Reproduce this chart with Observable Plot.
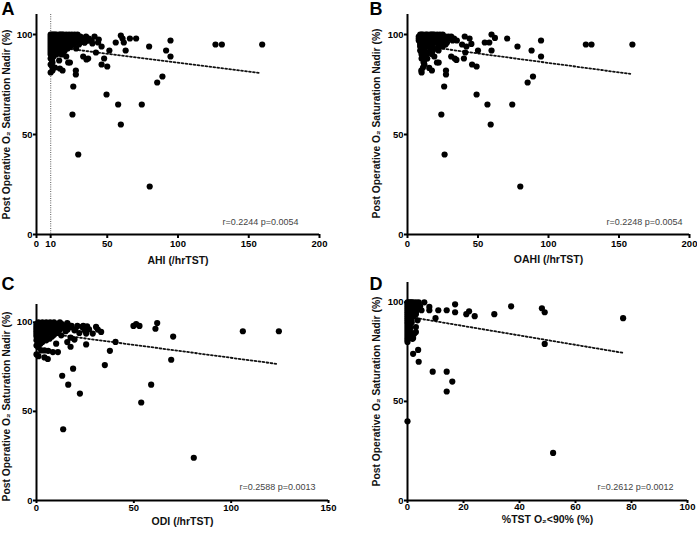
<!DOCTYPE html>
<html>
<head>
<meta charset="utf-8">
<script src="https://cdn.jsdelivr.net/npm/d3@7"></script>
<script src="https://cdn.jsdelivr.net/npm/@observablehq/plot@0.6"></script>
<style>
  html, body { margin: 0; padding: 0; background: #fff; }
  #wrap { position: relative; width: 697px; height: 534px; overflow: hidden; background: #fff;
          font-family: "Liberation Sans", Arial, Helvetica, sans-serif; }
  .pane { position: absolute; }
  .letter { position: absolute; font-weight: bold; font-size: 18px; line-height: 18px; color: #000; }
  svg text { font-family: "Liberation Sans", Arial, Helvetica, sans-serif; }
</style>
</head>
<body>
<div id="wrap"></div>
<script>
// ---------- DATA ----------
const yLabel = "Post Operative O₂ Saturation Nadir (%)";
const yTicks = [0, 50, 100];

// Panel A: AHI vs nadir
const ahiTicks = [0, 10, 50, 100, 150, 200];
const ahiPoints = [
 [10,100],[11,100],[12,100],[13,100],[14,100],[16,100],[17,100],[18,100],[19,100],[21,100],[23,100],[25,100],[27,100],[29,100],
 [10,99],[12,99],[15,99],[18,99],[20,99],[22,99],[24,99],[26,99],[28,99],[31,99],[35,99],
 [10,98],[11,98],[13,98],[16,98],[19,98],[21,98],[24,98],[27,98],[30,98],[33,98],[37,98],
 [10,97],[12,97],[14,97],[17,97],[20,97],[23,97],[26,97],[29,97],[32,97],[36,97],[39,97],
 [10,96],[13,96],[15,96],[18,96],[22,96],[25,96],[28,96],[31,96],[34,96],
 [10,95],[11,95],[14,95],[17,95],[21,95],[26,95],[30,95],
 [10,94],[12,94],[15,94],[19,94],[24,94],
 [10,93],[13,93],[17,93],[22,93],[28,93],
 [10,92],[11,92],[16,92],[20,92],
 [10,91],[14,91],[19,91],
 [10,90],[14,90],[17.7,90],
 [12,89],[21,89],[10,88],
 [11,87],[16,87],
 [11.3,86],[22.4,86],[23.6,86],[10,85],[11,84],
 [13,83.5],[16.5,83],[11.3,82],[18.4,82],[10,81],
 [59.6,99.5],[60.8,98],[56,96],[61.7,96],[66,98],[70.4,98],[63,92],[79.6,94],[94.7,97],[91.6,92],[94.7,89],
 [51.5,92],[47.8,88],[50,84],[46,85],[42,91],[33,89],[35.3,87.5],[36.5,88],[27.8,82],[27.8,80],[26,74],
 [49.5,70],[57.7,65],[74.4,65],[85.3,76],[89,79],[25.4,60],[59.6,55],[29.5,40],[80,24],
 [126.5,95],[131,95],[159.5,95],[41,99],[44,97.5],[46,94],[43.5,96],[39.5,95.5],[37,97],[34,96]
];
const ahiFit = [[10, 94], [157, 80.8]];
const ahiCutoff = [10];

// Panel B: OAHI vs nadir
const oahiTicks = [0, 50, 100, 150, 200];
const oahiPoints = [
 [9,100],[10,100],[11,100],[13,100],[14,100],[16,100],[17,100],[18,100],[19,100],[21,100],[23,100],[25,100],
 [8,99],[9,99],[11,99],[14,99],[17,99],[20,99],[22,99],[24,99],[27,99],[29,99],[31,99],
 [8,98],[10,98],[12,98],[15,98],[18,98],[21,98],[24,98],[26,98],[28,98],[30,98],[33,98],
 [8,97],[9,97],[11,97],[14,97],[17,97],[20,97],[23,97],[26,97],[32,97],[35,97],
 [9,96],[10,96],[13,96],[16,96],[19,96],[23,96],[25,96],[28,96],
 [9,95],[11,95],[14,95],[18,95],[22,95],[27,95],
 [9,94],[10,94],[13,94],[17,94],[25,94],
 [10,93],[12,93],[16,93],[21,93],
 [9,92],[12,92],[18,92],[22,92],
 [10,91],[11,91],[15,91],
 [10,90],[13.8,90.3],[17.3,90.3],
 [11,89],[19,89],
 [10,88],[14,88],[12,87],
 [11.4,86],[20.9,86],[22.1,86],[12,85],
 [11,83.5],[15.4,83.3],[17.3,82],[9.8,82],[10,81],
 [59.6,100],[62,98.3],[54.8,96],[58,96],[70.7,98],[59.6,92],[78,94],[94.7,97],[88,92],[94.7,89],
 [50,92],[45.8,85],[49,84],[41,91],[40,88],[33.5,88],[34.7,87.3],[31,89],[27.3,82],[27.3,80],[26,74],
 [49,70],[56.7,65],[74.3,65],[85.2,76],[89,79],[24,60],[59,55],[26.3,40],[80,24],
 [126.5,95],[130.5,95],[159.5,95],[40.6,99],[44,98],[45.3,95.3],[38.7,95],[41.8,94]
];
const oahiFit = [[8, 94.5], [158, 80.3]];

// Panel C: ODI vs nadir
const odiTicks = [0, 50, 100, 150];
const odiPoints = [
 [1,100],[3,100],[5,100],[7,100],[9,100],[12,100],[15.8,99.6],
 [0,99],[2,99],[4,99],[6,99],[8,99],[11,99],[13,99],[16,99],
 [0,98],[1,98],[3,98],[5,98],[7,98],[10,98],[14,98],[18,98],[21,98],[24,98],
 [0,97],[2,97],[4,97],[6,97],[9,97],[13,97],[17.8,97.4],[23.5,97.4],[26,97.8],[30.6,97.4],
 [0,96],[1,96],[3,96],[5,96],[8,96],[12,96],[16,96],[20,96],[27,96],[31.5,95.9],
 [0,95],[2,95],[4,95],[7,95],[10,95],[15,95],[19.5,95.5],[24.7,95.5],
 [0,94],[1,94],[3,94],[6,94],[11,94],[22,94],[33.2,94.6],
 [0,93],[2,93],[5,93],[9,93],[12.7,92.7],[25.5,93.7],[28.9,93.7],
 [0,92],[1,92],[3,92],[8,92],
 [1,91],[4,91],[17.5,91.4],[6.7,90.8],
 [0,90],[19.5,90.3],[5,89.9],
 [1,89],[3,89],[15.8,88.9],
 [2,88],[10.1,88],
 [0,87],[25.5,87.6],[17.5,86.3],[1,86],
 [2.4,84.2],[4.1,84.2],[6,84],
 [8.4,83.3],[11,83.3],[0,82],[4.1,80.3],[5.8,79.4],[1,81],
 [49.8,98],[51.2,99],[52.9,98],[62,99.6],[61.1,96.4],[70.2,92],[69.2,79],[40.6,89],[37.7,84],[35.1,76],
 [18.8,74],[13.2,70],[16.3,65],[22.3,60],[58.9,65],[53.8,55],[106,95],[124.5,95],[13.7,40],[80.8,24]
];
const odiFit = [[0, 94.6], [124, 76.6]];

// Panel D: %TST O2<90% vs nadir
const tstTicks = [0, 20, 40, 60, 80, 100];
const tstPoints = [
 [0,100],[0.5,100],[1,100],[1.5,100],[2,100],[3,100],[4,100],
 [0,99],[0.5,99],[1,99],[2,99],[3,99],[4,99],
 [0,98],[0.5,98],[1,98],[1.5,98],[2.5,98],[3.5,98],[4.5,98],
 [0,97],[0.5,97],[1,97],[2,97],[3,97],[4,97],
 [0,96],[0.5,96],[1,96],[2,96],[3,96],[5,96],
 [0,95],[0.5,95],[1,95],[2,95],[3,95],
 [0,94],[0.5,94],[1,94],[2,94],[3,94],
 [0,93],[0.5,93],[1,93],[2,93],
 [0,92],[0.5,92],[1.5,92],
 [0,91],[1,91],[3.6,90.9],
 [0,90],[0.5,90],[1.5,90],
 [0,89],[1,89],
 [0,88],[0.5,88],[3,87.5],
 [0,87],[1,87],[0,86],
 [0,85],[1,85],[3,85],[0,84],[2.4,84.2],
 [0,83],[1,83],[0,82],[2,82],[0,81],[1.8,81.6],[0,80],
 [6,100],[7.8,97.7],[7.8,96],[11,96],[14,96],[17,99],[17,95],[21,94],[22,95.5],[24,93],[31,94],[37,98],
 [10,92],[48,97],[49,95],[49,79],[77,92],[52,24],[0,40],[3.8,76],[2,74],[4,70],[9,65],[14,65],[16,60],[14,55]
];
const tstFit = [[0, 92.8], [77, 74.5]];

const panels = [
  {letter: "A", left: 0,   top: 0,   points: ahiPoints,  fit: ahiFit,  xDomain: [0, 200], xTicks: ahiTicks,
   xLabel: "AHI (/hrTST)", note: "r=0.2244 p=0.0054", cutoff: ahiCutoff,
   m: [14, 29, 33, 36], tickSize: 4, tickPad: 2, xlDy: 26, ylDx: -30, ylDy: 0, nDx: -21, nDy: -12},
  {letter: "B", left: 348, top: 0,   points: oahiPoints, fit: oahiFit, xDomain: [0, 200], xTicks: oahiTicks,
   xLabel: "OAHI (/hrTST)", note: "r=0.2248 p=0.0054", cutoff: null,
   m: [14, 8, 33, 59], tickSize: 4, tickPad: 2, xlDy: 25, ylDx: -31, ylDy: -1, nDx: -7, nDy: -12},
  {letter: "C", left: 0,   top: 267, points: odiPoints,  fit: odiFit,  xDomain: [0, 150], xTicks: odiTicks,
   xLabel: "ODI (/hrTST)", note: "r=0.2588 p=0.0013", cutoff: null,
   m: [37, 20, 34, 36], tickSize: 3, tickPad: 1, xlDy: 21, ylDx: -30, ylDy: 4, nDx: -13, nDy: -13},
  {letter: "D", left: 348, top: 267, points: tstPoints,  fit: tstFit,  xDomain: [0, 100], xTicks: tstTicks,
   xLabel: "%TST O₂<90% (%)", note: "r=0.2612 p=0.0012", cutoff: null,
   m: [15, 10, 34, 59], tickSize: 3, tickPad: 0, xlDy: 19, ylDx: -31, ylDy: 0, nDx: -14, nDy: -13}
];

const wrap = document.getElementById("wrap");
const W = [348, 349];

panels.forEach((p, i) => {
  const width = W[i % 2];
  const height = 267;
  const chart = Plot.plot({
    width, height,
    marginTop: p.m[0], marginRight: p.m[1], marginBottom: p.m[2], marginLeft: p.m[3],
    x: {domain: p.xDomain},
    y: {domain: [0, 110]},
    style: {background: "white", overflow: "visible", fontFamily: "'Liberation Sans', Arial, sans-serif"},
    marks: [
      p.cutoff ? Plot.ruleX(p.cutoff, {stroke: "#777", strokeWidth: 1.2, strokeDasharray: "1,1.3"}) : null,
      Plot.axisX({ticks: p.xTicks, tickSize: p.tickSize, tickPadding: p.tickPad, strokeWidth: 2,
                  fontSize: 9.5, fontWeight: "bold", label: null, tickFormat: d => String(d)}),
      Plot.axisY({ticks: yTicks, tickSize: 3, tickPadding: 1, strokeWidth: 2,
                  fontSize: 9.5, fontWeight: "bold", label: null, tickFormat: d => String(d)}),
      Plot.ruleX([0], {strokeWidth: 2}),
      Plot.ruleY([0], {strokeWidth: 2}),
      Plot.line(p.fit, {x: d => d[0], y: d => d[1], stroke: "#111", strokeWidth: 1.8, strokeDasharray: "1.8,2.2"}),
      Plot.dot(p.points, {x: d => d[0], y: d => d[1], r: 3.1, fill: "black", stroke: "none"}),
      Plot.text([p.xLabel], {text: d => d, frameAnchor: "bottom", dy: p.xlDy, textAnchor: "middle", lineAnchor: "middle",
                 fontSize: 10.5, fontWeight: "bold", fill: "#111"}),
      Plot.text([yLabel], {text: d => d, frameAnchor: "left", dx: p.ylDx, dy: p.ylDy, rotate: -90, textAnchor: "middle",
                 lineAnchor: "middle", fontSize: 10.3, fontWeight: "bold", fill: "#111"}),
      Plot.text([p.note], {text: d => d, frameAnchor: "bottom-right", dx: p.nDx, dy: p.nDy, textAnchor: "end",
                 lineAnchor: "middle", fontSize: 9, fill: "#444"})
    ]
  });
  chart.classList.add("pane");
  chart.style.left = p.left + "px";
  chart.style.top = p.top + "px";
  wrap.appendChild(chart);

  const lt = document.createElement("div");
  lt.className = "letter";
  lt.textContent = p.letter;
  lt.style.left = (p.left + (i % 2 ? 21.5 : 1.5)) + "px";
  lt.style.top = (p.top + (p.top ? 8 : 0)) + "px";
  wrap.appendChild(lt);
});
</script>
</body>
</html>
